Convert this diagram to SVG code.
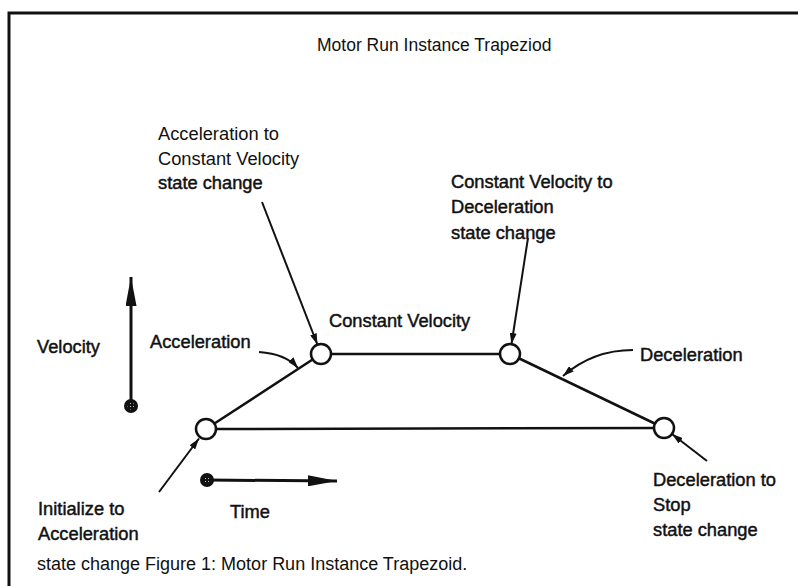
<svg xmlns="http://www.w3.org/2000/svg" width="798" height="586" viewBox="0 0 798 586">
<style>
text{font-family:"Liberation Sans",Arial,sans-serif;fill:#111}
.plain{font-size:17.5px}
.lbl{font-size:18.3px;stroke:#111;stroke-width:0.45}
.edge{stroke:#111;stroke-width:2.5;fill:none}
.arr{stroke:#111;stroke-width:2;fill:none;marker-end:url(#ah)}
.state{fill:#fff;stroke:#111;stroke-width:2.5}
</style>
<defs>
<marker id="ah" markerUnits="userSpaceOnUse" markerWidth="11" markerHeight="7" refX="11" refY="3.5" orient="auto">
<path d="M0,0 L11,3.5 L0,7 z" fill="#111"/>
</marker>
<marker id="big" markerUnits="userSpaceOnUse" markerWidth="29" markerHeight="11" refX="29" refY="5.5" orient="auto">
<path d="M0,0 L29,5.5 L0,11 z" fill="#111"/>
</marker>
<pattern id="speck" width="3" height="3" patternUnits="userSpaceOnUse">
<circle cx="1.5" cy="1.5" r="0.5" fill="#fff"/>
</pattern>
</defs>
<rect width="798" height="586" fill="#fff"/>
<g id="frame">
<path d="M9,586 V13 H798" stroke="#111" stroke-width="3" fill="none"/>
</g>
<text id="title" class="plain" x="317" y="51">Motor Run Instance Trapeziod</text>

<g id="connectors">
<line class="edge" x1="206" y1="429" x2="321" y2="354"/>
<line class="edge" x1="321" y1="354" x2="510" y2="354"/>
<line class="edge" x1="510" y1="354" x2="664" y2="428"/>
<line class="edge" x1="206" y1="429" x2="664" y2="428" stroke-width="2"/>
<line class="arr" x1="262" y1="202" x2="317.4" y2="344.5"/>
<line class="arr" x1="528" y1="238" x2="511.5" y2="344"/>
<path class="arr" d="M259,352 Q286,354 298,368"/>
<path class="arr" d="M633,350 Q593,350 563,376"/>
<line class="arr" x1="159" y1="492" x2="199" y2="438.5"/>
<line class="arr" x1="707" y1="461" x2="672" y2="434"/>
<line x1="131" y1="406" x2="131" y2="277" stroke="#111" stroke-width="3" marker-end="url(#big)"/>
<line x1="207" y1="480" x2="337" y2="481" stroke="#111" stroke-width="3" marker-end="url(#big)"/>
</g>

<g id="velocity-origin">
<circle cx="131" cy="406" r="7" fill="#111"/>
<circle cx="131" cy="406" r="3.5" fill="url(#speck)"/>
</g>
<g id="time-origin">
<circle cx="207" cy="480" r="7" fill="#111"/>
<circle cx="207" cy="480" r="3.5" fill="url(#speck)"/>
</g>

<g id="node-init"><circle class="state" cx="206" cy="429" r="10"/></g>
<g id="node-cv-start"><circle class="state" cx="321" cy="354" r="10"/></g>
<g id="node-cv-end"><circle class="state" cx="510" cy="354" r="10"/></g>
<g id="node-stop"><circle class="state" cx="664" cy="428" r="10"/></g>

<g id="label-acc-cv">
<text class="plain" x="158" y="140" style="font-size:18.3px">Acceleration to</text>
<text class="plain" x="158" y="165" style="font-size:18.3px">Constant Velocity</text>
<text class="lbl" x="158" y="189">state change</text>
</g>
<g id="label-cv-dec">
<text class="lbl" x="451" y="188">Constant Velocity to</text>
<text class="lbl" x="451" y="213">Deceleration</text>
<text class="lbl" x="451" y="239">state change</text>
</g>
<text id="label-cv" class="lbl" x="329" y="327">Constant Velocity</text>
<text id="label-acc" class="lbl" x="150" y="348">Acceleration</text>
<text id="label-vel" class="lbl" x="37" y="353">Velocity</text>
<text id="label-dec" class="lbl" x="640" y="361">Deceleration</text>
<g id="label-init">
<text class="lbl" x="38" y="515">Initialize to</text>
<text class="lbl" x="38" y="540">Acceleration</text>
</g>
<text id="label-time" class="lbl" x="230" y="518">Time</text>
<g id="label-dec-stop">
<text class="lbl" x="653" y="486">Deceleration to</text>
<text class="lbl" x="653" y="511">Stop</text>
<text class="lbl" x="653" y="536">state change</text>
</g>
<text id="caption" class="plain" x="37" y="570" style="font-size:18px">state change Figure 1: Motor Run Instance Trapezoid.</text>
</svg>
